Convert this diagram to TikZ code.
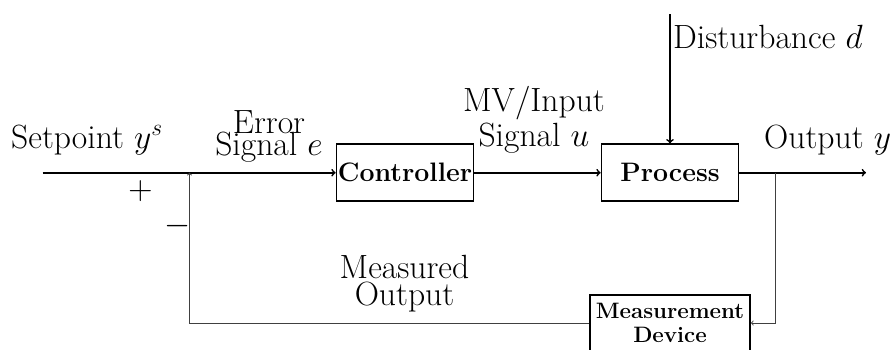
\RequirePackage{fix-cm}
\documentclass[tikz,border=0pt]{standalone}
\begin{document}
\begin{tikzpicture}[x=1pt,y=-1pt,
  lbl/.style={font=\fontsize{33.6}{20}\selectfont, align=center, inner sep=0pt, anchor=base},
  thk/.style={line width=1.7pt},
  thn/.style={line width=0.9pt, draw=black!75},
  blk/.style={draw, line width=1.7pt, inner sep=0pt, minimum width=137pt, minimum height=57pt,
    font=\fontsize{26.7}{26}\bfseries\selectfont},
  meas/.style={draw, line width=1.7pt, inner sep=0pt, minimum width=160pt, minimum height=56pt,
    font=\fontsize{22.3}{23.7}\bfseries\selectfont, align=center}]
\useasboundingbox (0,0) rectangle (892,349);
% nodes
\node[blk] (ctrl) at (405,172.7) {Controller};
\node[blk] (proc) at (670,172.7) {Process};
\node[meas] (dev) at (670,323) {Measurement\\Device};
\coordinate (in) at (42.5,172.7);
\coordinate (sum) at (189.5,172.7);
\coordinate (out) at (866,172.7);
\coordinate (branch) at (775.5,172.7);
\coordinate (dist) at (670,14);
% connectors
\draw[thk,->] (in) -- (ctrl.west);
\draw[thk,->] (ctrl.east) -- (proc.west);
\draw[thk,->] (proc.east) -- (out);
\draw[thk,->] (dist) -- (proc.north);
\draw[thn,->] (branch) |- (dev.east);
\draw[thn,->] (dev.west) -| (sum);
% labels
\node[lbl] (lsp) at (87,148) {Setpoint $y^s$};
\node[lbl] (lplus) at (140.5,199) {$+$};
\node[lbl] (lminus) at (178,234) {$-$};
\node[lbl] (lerr) at (269,155.7) {Error\\[-2.6pt]Signal $e$};
\node[lbl] (lmv) at (534,146.7) {MV/Input\\[2.4pt]Signal $u$};
\node[lbl, anchor=base west] (lout) at (764,148) {Output $y$};
\node[lbl, anchor=base west] (ldist) at (673,48) {Disturbance $d$};
\node[lbl] (lmeas) at (404.5,305) {Measured\\[1.7pt]Output};
\end{tikzpicture}
\end{document}
